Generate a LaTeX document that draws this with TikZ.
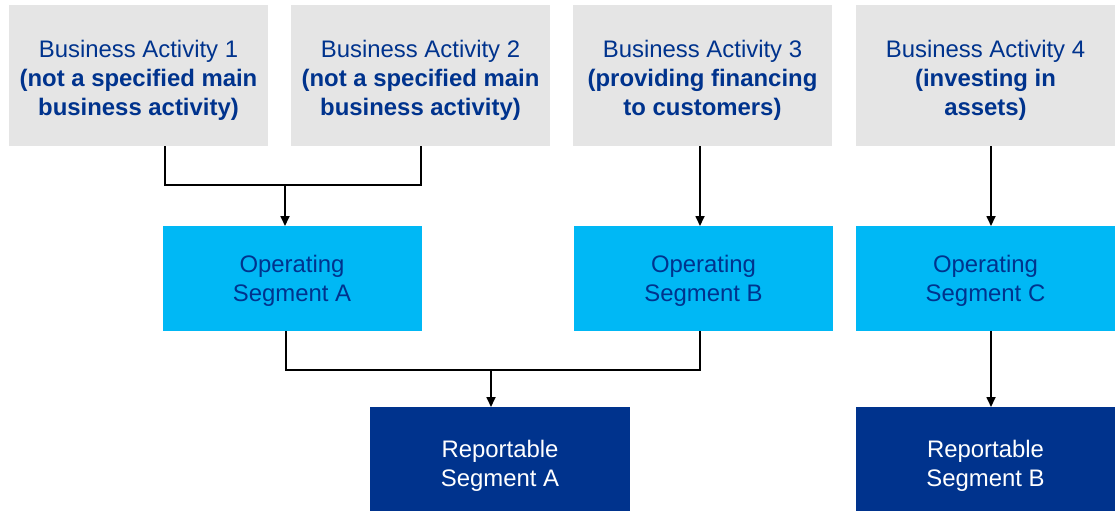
\documentclass[tikz,border=0pt]{standalone}
\usepackage{fontspec}
\setmainfont{Liberation Sans}
\usetikzlibrary{arrows.meta}
\definecolor{kgrey}{HTML}{E5E5E5}
\definecolor{kcyan}{HTML}{00B8F5}
\definecolor{kblue}{HTML}{00338D}
\begin{document}
\begin{tikzpicture}[x=1pt,y=-1pt,
  box/.style={rectangle,inner sep=0pt,outer sep=0pt},
  txt/.style={inner sep=0pt,align=center,font=\fontsize{23.9}{29}\selectfont},
  actbox/.style={box,fill=kgrey,minimum width=259pt,minimum height=141pt},
  opbox/.style={box,fill=kcyan,minimum width=259pt,minimum height=105pt},
  conn/.style={line width=1.7pt,draw=black},
  arr/.style={conn,-{Triangle[length=10pt,width=9pt]}}]
\useasboundingbox (0,0) rectangle (1119,511);
% top boxes
\node[actbox] (b1) at (138.5,75.5) {};
\node[actbox] (b2) at (420.5,75.5) {};
\node[actbox] (b3) at (702.5,75.5) {};
\node[actbox] (b4) at (985.5,75.5) {};
\node[txt,text=kblue] (t1) at ([yshift=-4.5pt]b1.center) {Business Activity 1\\\textbf{(not a specified main}\\\textbf{business activity)}};
\node[txt,text=kblue] (t2) at ([yshift=-4.5pt]b2.center) {Business Activity 2\\\textbf{(not a specified main}\\\textbf{business activity)}};
\node[txt,text=kblue] (t3) at ([yshift=-4.5pt]b3.center) {Business Activity 3\\\textbf{(providing financing}\\\textbf{to customers)}};
\node[txt,text=kblue] (t4) at ([yshift=-4.5pt]b4.center) {Business Activity 4\\\textbf{(investing in}\\\textbf{assets)}};
% operating segments
\node[opbox] (oa) at (292,278.5) {};
\node[opbox] (ob) at (703.5,278.5) {};
\node[opbox] (oc) at (985.5,278.5) {};
\node[txt,text=kblue] (toa) at ([yshift=-2pt]oa.center) {Operating\\Segment A};
\node[txt,text=kblue] (tob) at ([yshift=-2pt]ob.center) {Operating\\Segment B};
\node[txt,text=kblue] (toc) at ([yshift=-2pt]oc.center) {Operating\\Segment C};
% reportable segments
\path[fill=kblue] (370,407) rectangle (630,511);
\path[fill=kblue] (856,407) rectangle (1115,511);
\node[txt,text=white] (ra) at (500,466) {Reportable\\Segment A};
\node[txt,text=white] (rb) at (985.5,466) {Reportable\\Segment B};
\coordinate (rat) at (500,407);
\coordinate (rbt) at (985.5,407);
% helper coordinates
\coordinate (x1) at (165,0);
\coordinate (x2) at (421,0);
\coordinate (m1) at (285,185);
\coordinate (x3) at (700,0);
\coordinate (x4) at (991,0);
\coordinate (xa) at (286,0);
\coordinate (m2) at (491,370);
% connectors
\draw[conn] (b1.south -| x1) |- (m1) -| (b2.south -| x2);
\draw[arr] (m1) -- (oa.north -| m1);
\draw[arr] (b3.south -| x3) -- (ob.north -| x3);
\draw[arr] (b4.south -| x4) -- (oc.north -| x4);
\draw[conn] (oa.south -| xa) |- (m2) -| (ob.south -| x3);
\draw[arr] (m2) -- (rat -| m2);
\draw[arr] (oc.south -| x4) -- (rbt -| x4);
\end{tikzpicture}
\end{document}
